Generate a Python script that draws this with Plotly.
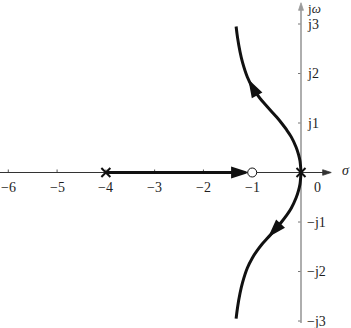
import plotly.graph_objects as go

# ---- data ----
x_ticks = [-6, -5, -4, -3, -2, -1, 0]
x_tick_labels = ["\u22126", "\u22125", "\u22124", "\u22123", "\u22122", "\u22121", "0"]
y_ticks = [3, 2, 1, -1, -2, -3]
y_tick_labels = ["j3", "j2", "j1", "\u2212j1", "\u2212j2", "\u2212j3"]

poles = [-4, 0]
zeros = [-1]

# complex branch (upper half); lower half is its mirror image
branch_sigma = [0.0, -0.02, -0.05, -0.1, -0.2, -0.3, -0.4, -0.5, -0.6, -0.7,
                -0.8, -0.9, -1.0, -1.1, -1.2, -1.25, -1.3, -1.33]
branch_omega = [0.0, 0.23, 0.36, 0.51, 0.72, 0.87, 1.00, 1.12, 1.23, 1.34,
                1.45, 1.58, 1.73, 1.93, 2.23, 2.44, 2.72, 2.95]

# real-axis branch from pole -4 towards the zero -1
real_branch = [-4.0, -1.12]

# direction arrows on the locus (tail, tip)
arrow_up_sigma = [-0.95, -1.05]
arrow_up_omega = [1.65, 1.83]
arrow_dn_sigma = [-0.5, -0.63]
arrow_dn_omega = [-1.12, -1.26]

x_range = [-6.17, 1.025]
y_range = [-3.141, 3.485]
x_axis_end = 0.62
y_axis_ends = [-3.04, 3.43]
jw_label_y = 3.32

SERIF = "Liberation Serif, Times New Roman, DejaVu Serif, serif"
INK = "#111111"
TXT = "#1e1e1e"

fig = go.Figure()

# axes as lines with arrowheads
fig.add_trace(go.Scatter(
    x=[x_range[0], x_axis_end], y=[0, 0], mode="lines+markers",
    line=dict(color="#333333", width=1),
    marker=dict(symbol=["circle", "arrow"], size=[0, 9], angleref="previous",
                color="#333333", opacity=1, line=dict(width=0.8, color="#333333")),
    hoverinfo="skip", showlegend=False))
fig.add_trace(go.Scatter(
    x=[0, 0], y=y_axis_ends, mode="lines+markers",
    line=dict(color="#9a9a9a", width=1.6),
    marker=dict(symbol=["circle", "arrow"], size=[0, 8], angleref="previous",
                color="#9a9a9a", opacity=1, line=dict(width=0.8, color="#9a9a9a")),
    hoverinfo="skip", showlegend=False))

# locus branches
fig.add_trace(go.Scatter(
    x=branch_sigma, y=branch_omega, mode="lines", line=dict(color=INK, width=3, shape="spline"),
    hoverinfo="skip", showlegend=False))
fig.add_trace(go.Scatter(
    x=branch_sigma, y=[-w for w in branch_omega], mode="lines",
    line=dict(color=INK, width=3, shape="spline"),
    hoverinfo="skip", showlegend=False))
fig.add_trace(go.Scatter(
    x=real_branch, y=[0, 0], mode="lines+markers",
    line=dict(color=INK, width=3.2),
    marker=dict(symbol=["circle", "arrow"], size=[0, 15], angleref="previous",
                color=INK, opacity=1, line=dict(width=2, color=INK)),
    hoverinfo="skip", showlegend=False))

for xs, ys in [(arrow_up_sigma, arrow_up_omega), (arrow_dn_sigma, arrow_dn_omega)]:
    fig.add_trace(go.Scatter(
        x=xs, y=ys, mode="markers",
        marker=dict(symbol=["circle", "arrow"], size=[0, 15], angleref="previous",
                    color=INK, opacity=1, line=dict(width=2, color=INK)),
        hoverinfo="skip", showlegend=False))

# poles and zeros
fig.add_trace(go.Scatter(
    x=poles, y=[0] * len(poles), mode="markers",
    marker=dict(symbol="x-thin", size=9, line=dict(color=INK, width=2)),
    hoverinfo="skip", showlegend=False))
fig.add_trace(go.Scatter(
    x=zeros, y=[0] * len(zeros), mode="markers",
    marker=dict(symbol="circle", size=9, color="white", line=dict(color=INK, width=1)),
    hoverinfo="skip", showlegend=False))

shapes = []
for t in x_ticks[:-1]:
    shapes.append(dict(type="line", xref="x", yref="y", x0=t, x1=t,
                       ysizemode="pixel", yanchor=0, y0=0, y1=3,
                       line=dict(color="#555555", width=1), layer="below"))
for t in y_ticks:
    shapes.append(dict(type="line", xref="x", yref="y", y0=t, y1=t,
                       xsizemode="pixel", xanchor=0, x0=-3, x1=0,
                       line=dict(color="#777777", width=1), layer="below"))

annotations = []
for t, lab in zip(x_ticks, x_tick_labels):
    if t == 0:
        annotations.append(dict(x=t, y=0, text=lab, showarrow=False, xanchor="left",
                                yanchor="top", xshift=11, yshift=-5,
                                font=dict(family=SERIF, size=14, color=TXT)))
    else:
        annotations.append(dict(x=t, y=0, text=lab, showarrow=False, xanchor="center",
                                yanchor="top", yshift=-5,
                                font=dict(family=SERIF, size=14, color=TXT)))
for t, lab in zip(y_ticks, y_tick_labels):
    annotations.append(dict(x=0, y=t, text=lab, showarrow=False, xanchor="left",
                            yanchor="middle", xshift=4,
                            font=dict(family=SERIF, size=14, color=TXT)))
annotations.append(dict(x=x_axis_end, y=0, text="<i>\u03c3</i>", showarrow=False,
                        xanchor="left", yanchor="middle", xshift=9, yshift=2,
                        font=dict(family=SERIF, size=14, color=TXT)))
annotations.append(dict(x=0, y=jw_label_y, text="j<i>\u03c9</i>", showarrow=False,
                        xanchor="left", yanchor="middle", xshift=4,
                        font=dict(family=SERIF, size=13, color=TXT)))

fig.update_layout(
    width=351, height=328, margin=dict(l=0, r=0, t=0, b=0),
    paper_bgcolor="white", plot_bgcolor="white",
    xaxis=dict(range=x_range, visible=False, fixedrange=True),
    yaxis=dict(range=y_range, visible=False, fixedrange=True),
    shapes=shapes, annotations=annotations, showlegend=False,
)

fig.write_html("out.html")
